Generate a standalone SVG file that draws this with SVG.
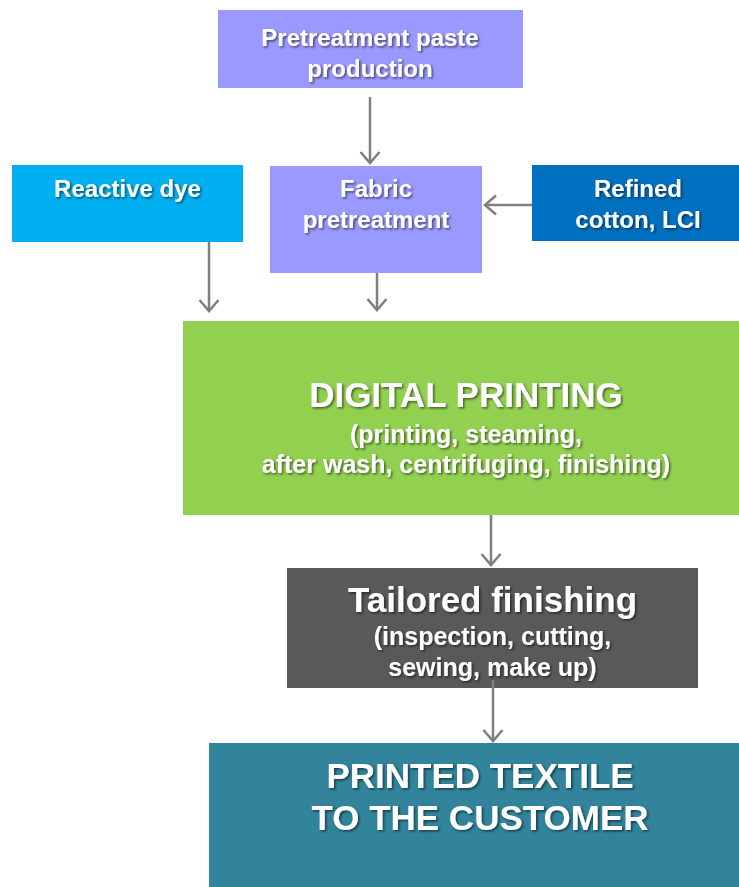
<svg xmlns="http://www.w3.org/2000/svg" width="739" height="887" viewBox="0 0 739 887">
<defs>
<filter id="sh" x="-10%" y="-30%" width="120%" height="160%">
<feDropShadow dx="1.5" dy="1.5" stdDeviation="1" flood-color="#000" flood-opacity="0.55"/>
</filter>
<marker id="ah" markerWidth="24" markerHeight="24" refX="12" refY="12" orient="auto" markerUnits="userSpaceOnUse">
<path d="M1,2.5 L12,12 L1,21.5" fill="none" stroke="#7f7f7f" stroke-width="2.5"/>
</marker>
</defs>
<style>
text{font-family:"Liberation Sans",Arial,sans-serif;font-weight:bold;fill:#fff;text-anchor:middle;filter:url(#sh)}
.s{font-size:24px}
.m{font-size:25px}
.l{font-size:35px}
.c{fill:none;stroke:#7f7f7f;stroke-width:2.5;marker-end:url(#ah)}
</style>
<rect width="739" height="887" fill="#fff"/>
<g id="paste">
<rect x="218" y="10" width="305" height="78" fill="#9999ff"/>
<text class="s" x="370" y="46">Pretreatment paste</text>
<text class="s" x="370" y="77">production</text>
</g>
<g id="dye">
<rect x="12" y="165" width="231" height="77" fill="#00b0f0"/>
<text class="s" x="127.5" y="197">Reactive dye</text>
</g>
<g id="fabric">
<rect x="270" y="166" width="212" height="107" fill="#9999ff"/>
<text class="s" x="376" y="197">Fabric</text>
<text class="s" x="376" y="228">pretreatment</text>
</g>
<g id="cotton">
<rect x="532" y="165" width="207" height="76" fill="#0070c0"/>
<text class="s" x="638" y="197">Refined</text>
<text class="s" x="638" y="228">cotton, LCI</text>
</g>
<g id="digital">
<rect x="183" y="321" width="556" height="194" fill="#92d050"/>
<text class="l" x="466" y="407">DIGITAL PRINTING</text>
<text class="m" x="466" y="443">(printing, steaming,</text>
<text class="m" x="466" y="473">after wash, centrifuging, finishing)</text>
</g>
<g id="tailored">
<rect x="287" y="568" width="411" height="120" fill="#595959"/>
<text class="l" x="492.5" y="612">Tailored finishing</text>
<text class="m" x="492.5" y="645">(inspection, cutting,</text>
<text class="m" x="492.5" y="676">sewing, make up)</text>
</g>
<g id="customer">
<rect x="209" y="743" width="530" height="144" fill="#31849b"/>
<text class="l" x="480" y="788">PRINTED TEXTILE</text>
<text class="l" x="480" y="830">TO THE CUSTOMER</text>
</g>
<g id="connectors">
<path class="c" d="M370,97 V163"/>
<path class="c" d="M532,205 H485"/>
<path class="c" d="M209,242 V311"/>
<path class="c" d="M377,273 V310"/>
<path class="c" d="M491,515 V565"/>
<path class="c" d="M493,680 V741"/>
</g>
</svg>
